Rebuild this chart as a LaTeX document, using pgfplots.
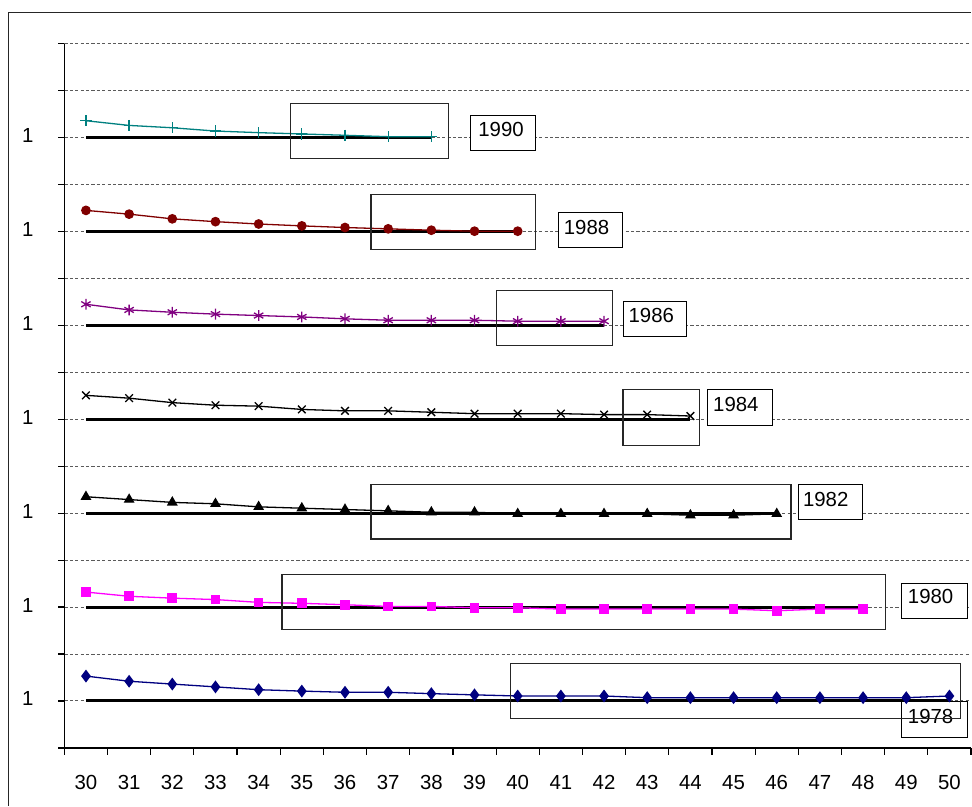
\documentclass[border=0pt]{standalone}
\usepackage{pgfplots}
\pgfplotsset{compat=1.18}
\usepackage{fontspec}
\setmainfont{Liberation Sans}
\definecolor{cTeal}{RGB}{0,128,128}
\definecolor{cDred}{RGB}{128,0,0}
\definecolor{cPurp}{RGB}{128,0,128}
\definecolor{cMag}{RGB}{255,0,255}
\definecolor{cNavy}{RGB}{0,0,128}
\definecolor{cGrid}{RGB}{90,90,90}
\begin{document}
\fontsize{10.2}{12.2}\selectfont
\begin{tikzpicture}
\begin{axis}[
  scale only axis, width=453.6pt, height=352.3pt,
  xmin=-0.5, xmax=20.5, ymin=0, ymax=15,
  axis lines=left, axis line style={-, line width=0.6pt, black},
  clip=false,
  tick align=outside,
  xtick={0,...,20},
  xticklabels={30,31,32,33,34,35,36,37,38,39,40,41,42,43,44,45,46,47,48,49,50},
  major x tick style={draw=none},
  minor xtick={-0.5,0.5,...,20.5},
  minor tick length=3.5pt,
  minor x tick style={line width=0.6pt, black},
  ytick={0,...,15},
  yticklabels={,1,,1,,1,,1,,1,,1,,1,,},
  major tick length=3pt,
  major y tick style={line width=0.6pt, black},
  ymajorgrids=true,
  grid style={cGrid, line width=0.5pt, dash pattern=on 1.6pt off 1.1pt},
  xticklabel style={anchor=base, inner sep=0pt, yshift=-17.6pt},
  yticklabel style={anchor=east, inner sep=0pt, xshift=-12.2pt, yshift=1pt},
  /pgf/number format/assume math mode=true,
]
% invisible full-picture extent
\path (axis cs:-1.991,-1.228) rectangle (axis cs:20.509,15.932);
% outer chart frame
\draw[line width=0.6pt, black!85] (axis cs:-1.799,-1.228) -- (axis cs:-1.799,15.661) -- (axis cs:20.509,15.661);

% baselines
\addplot[black, line width=1.5pt] coordinates {(0,1) (20,1)};
\addplot[black, line width=1.5pt] coordinates {(0,3) (18,3)};
\addplot[black, line width=1.5pt] coordinates {(0,5) (16,5)};
\addplot[black, line width=1.5pt] coordinates {(0,7) (14,7)};
\addplot[black, line width=1.5pt] coordinates {(0,9) (12,9)};
\addplot[black, line width=1.5pt] coordinates {(0,11) (10,11)};
\addplot[black, line width=1.5pt] coordinates {(0,13) (8,13)};

% 1978
\addplot[cNavy, line width=0.65pt, mark=diamond*, mark size=2.7pt, mark options={fill=cNavy}] coordinates {
(0,1.53) (1,1.42) (2,1.36) (3,1.30) (4,1.24) (5,1.21) (6,1.185) (7,1.185) (8,1.156) (9,1.13)
(10,1.106) (11,1.106) (12,1.106) (13,1.07) (14,1.07) (15,1.07) (16,1.07) (17,1.07) (18,1.07) (19,1.07) (20,1.106)};
% 1980
\addplot[cMag, line width=0.65pt, mark=square*, mark size=2.1pt, mark options={fill=cMag}] coordinates {
(0,3.32) (1,3.23) (2,3.19) (3,3.16) (4,3.10) (5,3.08) (6,3.05) (7,3.014) (8,3.014) (9,2.986)
(10,2.986) (11,2.957) (12,2.957) (13,2.957) (14,2.957) (15,2.957) (16,2.922) (17,2.957) (18,2.957)};
% 1982
\addplot[black, line width=0.65pt, mark=triangle*, mark size=2.5pt, mark options={fill=black}] coordinates {
(0,5.35) (1,5.29) (2,5.23) (3,5.20) (4,5.135) (5,5.106) (6,5.078) (7,5.05) (8,5.02) (9,5.02)
(10,4.986) (11,4.986) (12,4.986) (13,4.986) (14,4.957) (15,4.957) (16,4.986)};
% 1984
\addplot[black, line width=0.65pt, mark=x, mark size=2.7pt] coordinates {
(0,7.51) (1,7.45) (2,7.355) (3,7.30) (4,7.28) (5,7.21) (6,7.18) (7,7.18) (8,7.15) (9,7.12)
(10,7.12) (11,7.12) (12,7.10) (13,7.10) (14,7.07)};
% 1986
\addplot[cPurp, line width=0.65pt, mark=asterisk, mark size=2.7pt] coordinates {
(0,9.45) (1,9.33) (2,9.28) (3,9.24) (4,9.21) (5,9.18) (6,9.14) (7,9.11) (8,9.11) (9,9.11)
(10,9.09) (11,9.09) (12,9.09)};
% 1988
\addplot[cDred, line width=0.65pt, mark=*, mark size=2.1pt, mark options={fill=cDred}] coordinates {
(0,11.45) (1,11.37) (2,11.27) (3,11.21) (4,11.16) (5,11.12) (6,11.085) (7,11.057) (8,11.028) (9,11.007) (10,11.007)};
% 1990
\addplot[cTeal, line width=0.65pt, mark=+, mark size=2.8pt] coordinates {
(0,13.36) (1,13.26) (2,13.21) (3,13.14) (4,13.106) (5,13.078) (6,13.05) (7,13.02) (8,13.02)};

% text boxes
\filldraw[fill=white, draw=black, line width=0.55pt] (axis cs:8.91,13.47) rectangle (axis cs:10.42,12.72);
\node[anchor=base west, inner sep=0pt] at (axis cs:9.08,13.02) {1990};
\filldraw[fill=white, draw=black, line width=0.55pt] (axis cs:10.94,11.41) rectangle (axis cs:12.42,10.65);
\node[anchor=base west, inner sep=0pt] at (axis cs:11.06,10.94) {1988};
\filldraw[fill=white, draw=black, line width=0.55pt] (axis cs:12.45,9.51) rectangle (axis cs:13.92,8.76);
\node[anchor=base west, inner sep=0pt] at (axis cs:12.56,9.07) {1986};
\filldraw[fill=white, draw=black, line width=0.55pt] (axis cs:14.40,7.63) rectangle (axis cs:15.91,6.87);
\node[anchor=base west, inner sep=0pt] at (axis cs:14.52,7.17) {1984};
\filldraw[fill=white, draw=black, line width=0.55pt] (axis cs:16.50,5.61) rectangle (axis cs:17.99,4.86);
\node[anchor=base west, inner sep=0pt] at (axis cs:16.60,5.14) {1982};
\filldraw[fill=white, draw=black, line width=0.55pt] (axis cs:18.90,3.51) rectangle (axis cs:20.41,2.76);
\node[anchor=base west, inner sep=0pt] at (axis cs:19.03,3.07) {1980};
\filldraw[fill=white, draw=black, line width=0.55pt] (axis cs:18.89,0.99) rectangle (axis cs:20.41,0.23);
\node[anchor=base west, inner sep=0pt] at (axis cs:19.03,0.53) {1978};

% highlight rectangles
\draw[black!85, line width=0.6pt] (axis cs:4.74,13.72) rectangle (axis cs:8.40,12.55);
\draw[black!85, line width=0.6pt] (axis cs:6.60,11.79) rectangle (axis cs:10.42,10.62);
\draw[black!85, line width=0.6pt] (axis cs:9.51,9.75) rectangle (axis cs:12.19,8.58);
\draw[black!85, line width=0.6pt] (axis cs:12.44,7.63) rectangle (axis cs:14.21,6.45);
\draw[black!85, line width=0.6pt] (axis cs:6.60,5.61) rectangle (axis cs:16.33,4.45);
\draw[black!85, line width=0.6pt] (axis cs:4.54,3.70) rectangle (axis cs:18.52,2.52);
\draw[black!85, line width=0.6pt] (axis cs:9.83,1.80) rectangle (axis cs:20.25,0.63);
\end{axis}
\end{tikzpicture}
\end{document}
